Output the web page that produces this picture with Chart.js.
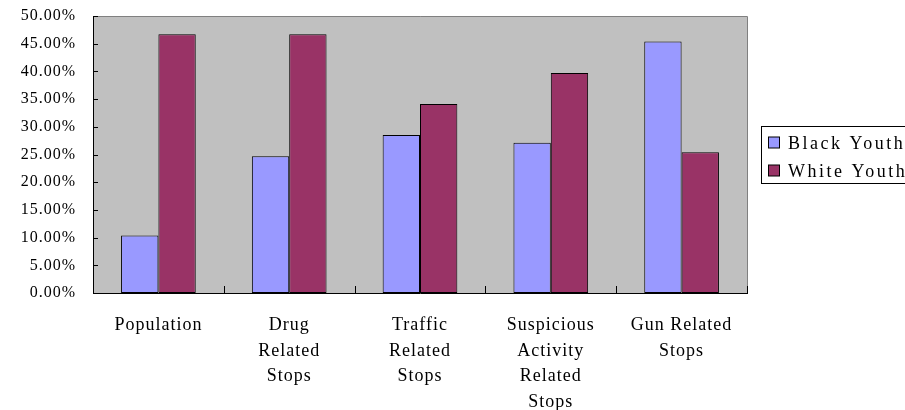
<!DOCTYPE html>
<html>
<head>
<meta charset="utf-8">
<script src="https://cdn.jsdelivr.net/npm/chart.js@4/dist/chart.umd.min.js"></script>
<style>
  html, body { margin: 0; padding: 0; background: #ffffff; }
  #wrap { width: 905px; height: 410px; }
</style>
</head>
<body>
<div id="wrap"><canvas id="c" width="905" height="410"></canvas></div>
<script>
// Share of each group, in percent
const categories = [
  ["Population"],
  ["Drug", "Related", "Stops"],
  ["Traffic", "Related", "Stops"],
  ["Suspicious", "Activity", "Related", "Stops"],
  ["Gun Related", "Stops"]
];
const blackYouth = [10.4, 24.7, 28.5, 27.1, 45.4];
const whiteYouth = [46.7, 46.7, 34.1, 39.7, 25.4];
const seriesNames = ["Black Youth", "White Youth"];
const seriesColors = ["#9999FF", "#993366"];

const FONT = "'Liberation Serif', 'DejaVu Serif', serif";

// Grey plot area, its border, inward tick marks and the boxed legend
const plotFrame = {
  id: 'plotFrame',
  beforeDraw(chart) {
    const { ctx, chartArea: a } = chart;
    ctx.letterSpacing = '1px';
    ctx.save();
    ctx.fillStyle = '#C0C0C0';
    ctx.fillRect(a.left, a.top, a.right - a.left, a.bottom - a.top);
    ctx.strokeStyle = '#808080';
    ctx.lineWidth = 1;
    ctx.beginPath();
    ctx.moveTo(a.left, a.top + 0.5);
    ctx.lineTo(a.right + 0.5, a.top + 0.5);
    ctx.lineTo(a.right + 0.5, a.bottom);
    ctx.stroke();
    ctx.restore();
  },
  afterDraw(chart) {
    const { ctx, chartArea: a, scales } = chart;
    ctx.save();
    ctx.strokeStyle = '#000000';
    ctx.lineWidth = 1;
    ctx.beginPath();
    scales.y.ticks.forEach(t => {
      const y = Math.round(scales.y.getPixelForValue(t.value)) + 0.5;
      ctx.moveTo(a.left, y);
      ctx.lineTo(a.left + 5, y);
    });
    const n = categories.length;
    for (let i = 0; i <= n; i++) {
      const x = Math.round(scales.x.getPixelForValue(i - 0.5)) + 0.5;
      ctx.moveTo(x, a.bottom);
      ctx.lineTo(x, a.bottom - 7);
    }
    ctx.stroke();

    const bx = 761.5, by = 126.5, bw = 170, bh = 57;
    ctx.fillStyle = '#ffffff';
    ctx.fillRect(bx, by, bw, bh);
    ctx.strokeStyle = '#000000';
    ctx.strokeRect(bx, by, bw, bh);
    ctx.font = '18px ' + FONT;
    ctx.letterSpacing = '2.5px';
    ctx.textBaseline = 'middle';
    ctx.textAlign = 'left';
    chart.data.datasets.forEach((ds, i) => {
      const cy = 143 + i * 28;
      ctx.fillStyle = ds.backgroundColor;
      ctx.fillRect(768.5, cy - 6, 11, 11);
      ctx.strokeStyle = '#000000';
      ctx.strokeRect(768.5, cy - 6, 11, 11);
      ctx.fillStyle = '#000000';
      ctx.fillText(ds.label, 788, cy + 1);
    });
    ctx.restore();
  }
};

new Chart(document.getElementById('c'), {
  type: 'bar',
  data: {
    labels: categories,
    datasets: [
      { label: seriesNames[0], data: blackYouth, backgroundColor: seriesColors[0] },
      { label: seriesNames[1], data: whiteYouth, backgroundColor: seriesColors[1] }
    ]
  },
  options: {
    responsive: false,
    animation: false,
    devicePixelRatio: 1,
    layout: { padding: { left: 0, right: 158, top: 16, bottom: 0 } },
    datasets: {
      bar: {
        categoryPercentage: 0.571,
        barPercentage: 1.0,
        borderWidth: 1,
        borderColor: '#000000',
        borderSkipped: false
      }
    },
    plugins: {
      legend: { display: false },
      tooltip: { enabled: false }
    },
    scales: {
      x: {
        grid: { display: false, drawTicks: false },
        border: { display: true, color: '#000000', width: 1 },
        ticks: {
          color: '#000000',
          padding: 20,
          maxRotation: 0,
          autoSkip: false,
          font: { family: FONT, size: 18, lineHeight: 1.41 }
        },
        afterFit(scale) {
          scale.height = 117;
          scale.paddingLeft = 0;
          scale.paddingRight = 0;
        }
      },
      y: {
        min: 0,
        max: 50,
        grid: { display: false, drawTicks: false },
        border: { display: true, color: '#000000', width: 1 },
        ticks: {
          stepSize: 5,
          color: '#000000',
          padding: 17,
          font: { family: FONT, size: 16 },
          callback: v => v.toFixed(2) + '%'
        },
        afterFit(scale) {
          scale.width = 93;
          scale.paddingTop = 0;
          scale.paddingBottom = 0;
        }
      }
    }
  },
  plugins: [plotFrame]
});
</script>
</body>
</html>
